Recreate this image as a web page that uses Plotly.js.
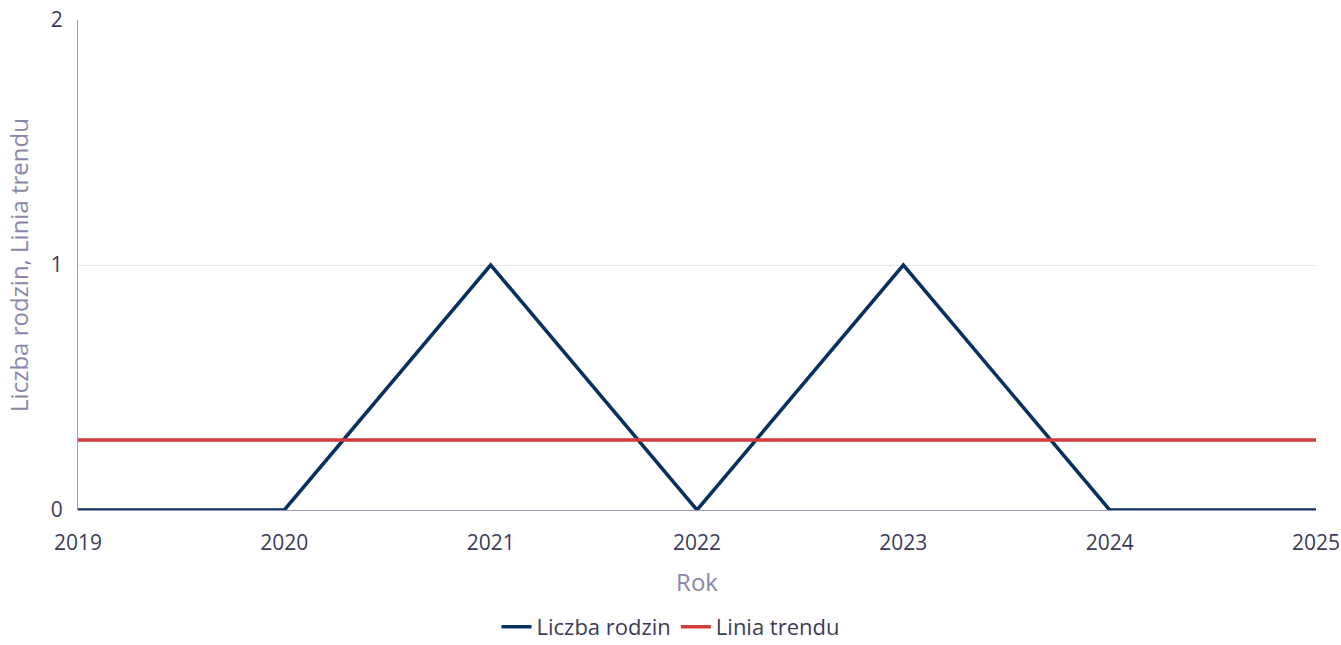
<!DOCTYPE html>
<html><head><meta charset="utf-8">
<script src="https://cdn.plot.ly/plotly-3.0.1.min.js"></script>
<style>html,body{margin:0;padding:0;background:#fff}#chart{width:1341px;height:645px}</style>
</head><body><div id="chart"></div>
<script>
const years = [2019, 2020, 2021, 2022, 2023, 2024, 2025];
const families = [0, 0, 1, 0, 1, 0, 0];
const trend = [0.2857, 0.2857, 0.2857, 0.2857, 0.2857, 0.2857, 0.2857];
const yTicks = [0, 1, 2];

const font = 'Open Sans, Noto Sans, sans-serif';
const data = [
  {x: years, y: families, type: 'scatter', mode: 'lines', name: 'Liczba rodzin',
   line: {color: '#06305f', width: 3.5}},
  {x: years, y: trend, type: 'scatter', mode: 'lines', name: 'Linia trendu',
   line: {color: '#d33a3a', width: 3.5}}
];
const layout = {
  width: 1341, height: 645,
  margin: {l: 78, r: 25, t: 20, b: 135, autoexpand: false},
  paper_bgcolor: '#fff', plot_bgcolor: '#fff',
  font: {family: font, color: '#3c3c58', size: 22},
  xaxis: {
    range: [2019, 2025], tickvals: years, ticktext: years.map(String),
    showgrid: false, zeroline: false, showline: false, ticklabeloverflow: 'allow',
    ticks: '', ticklabelstandoff: 18, tickfont: {size: 21, color: '#3c3c58'},
    title: {text: 'Rok', font: {size: 24, color: '#8a87a8'}, standoff: 19}
  },
  yaxis: {
    range: [0, 2], tickvals: yTicks, ticktext: yTicks.map(String),
    showgrid: true, gridcolor: '#e6e6ee', gridwidth: 1,
    zeroline: true, zerolinecolor: '#9b9bc0', zerolinewidth: 1,
    showline: true, linecolor: '#9b9bc0', linewidth: 1,
    ticks: '', ticklabelstandoff: 10, tickfont: {size: 21, color: '#3c3c58'},
    title: {text: 'Liczba rodzin, Linia trendu', font: {size: 24, color: '#8a87a8'}, standoff: 15}
  },
  showlegend: true,
  legend: {orientation: 'h', x: 0.5, xref: 'container', xanchor: 'center',
    y: 0.028, yref: 'container', yanchor: 'middle',
    font: {size: 22, color: '#3c3c58'}, itemwidth: 30, tracegroupgap: 0},
  hovermode: false
};
Plotly.newPlot('chart', data, layout, {displayModeBar: false, staticPlot: true});
</script></body></html>
